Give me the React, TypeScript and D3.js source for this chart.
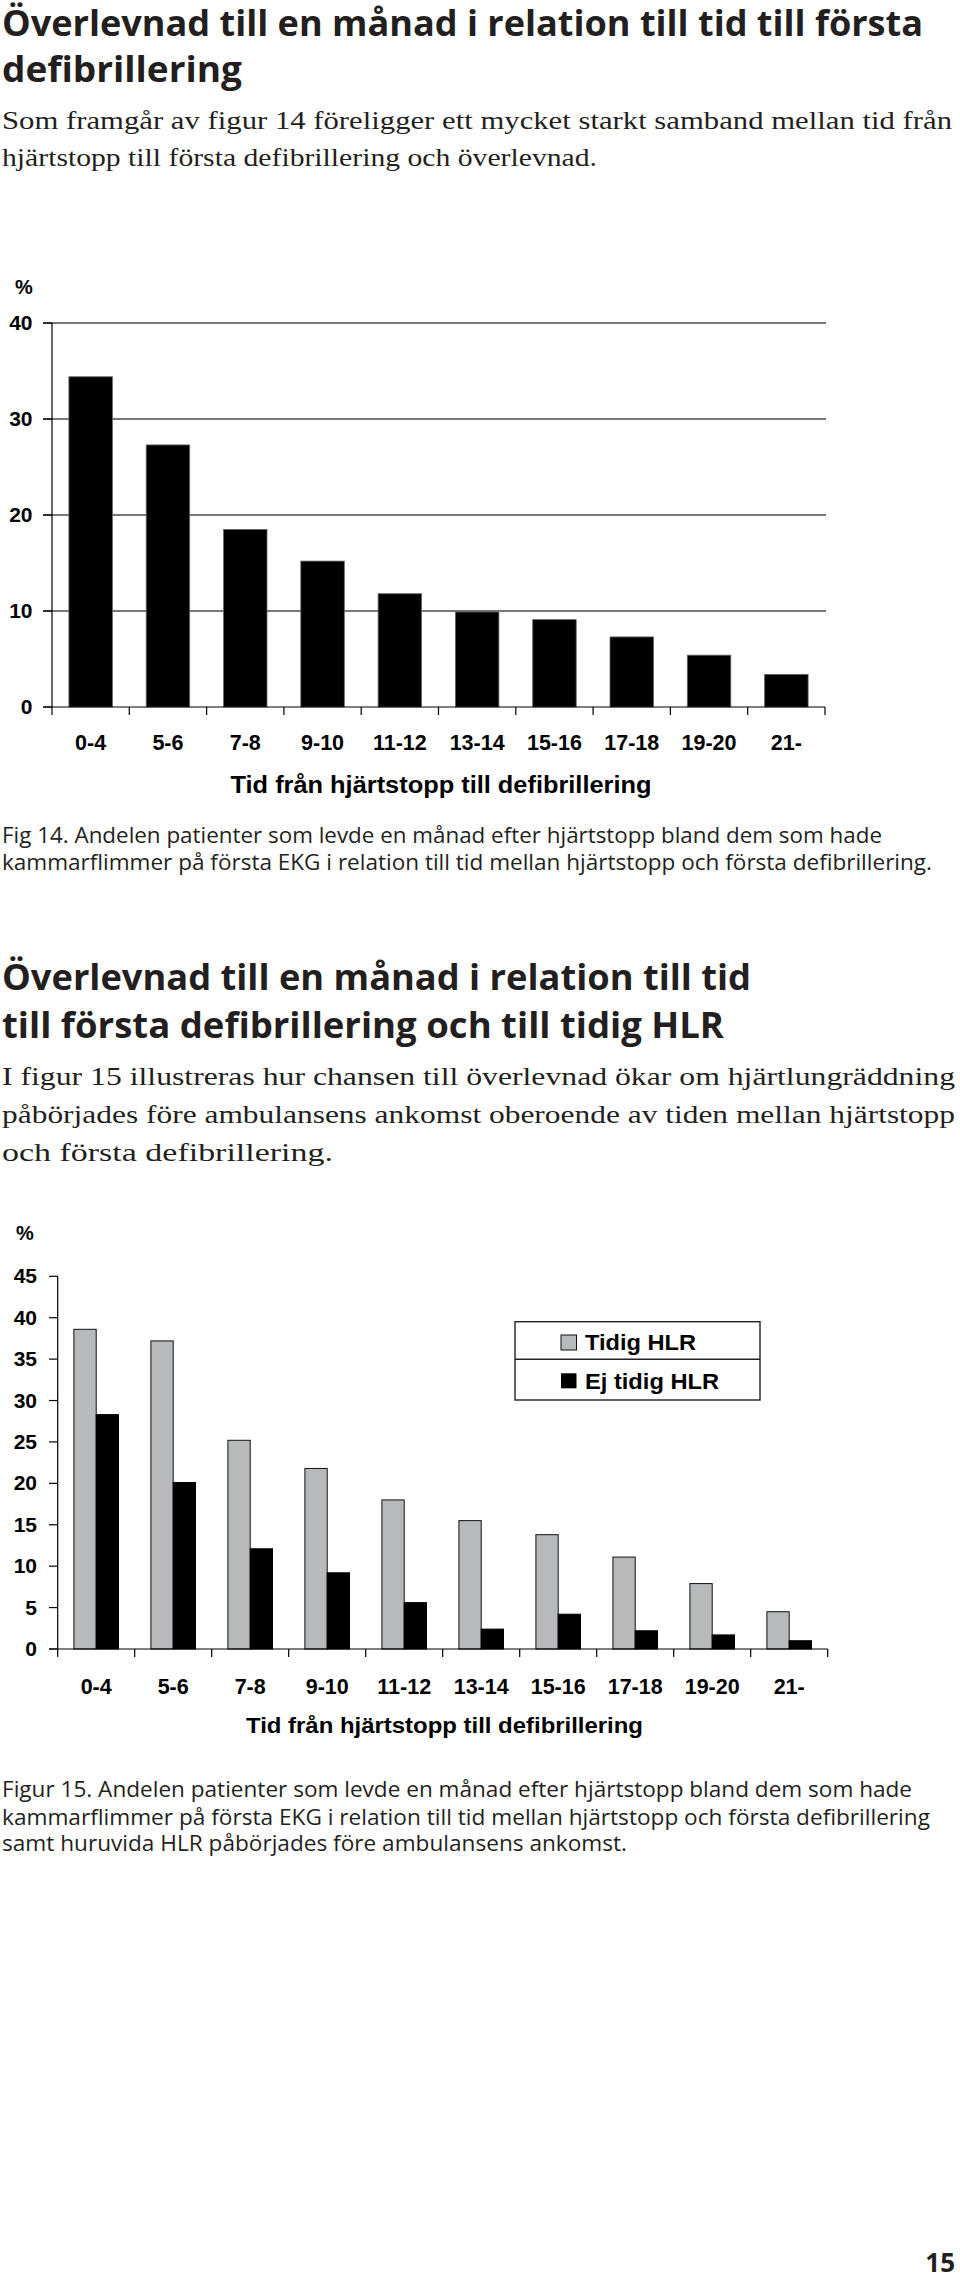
import React from "react";
import * as d3 from "d3";

const categories = ["0-4", "5-6", "7-8", "9-10", "11-12", "13-14", "15-16", "17-18", "19-20", "21-"];
const survivalAll = [34.4, 27.3, 18.5, 15.2, 11.8, 9.9, 9.1, 7.3, 5.4, 3.4];
const earlyCPR = [38.6, 37.2, 25.2, 21.8, 18.0, 15.5, 13.8, 11.1, 7.9, 4.5];
const noEarlyCPR = [28.3, 20.1, 12.1, 9.2, 5.6, 2.4, 4.2, 2.2, 1.7, 1.0];
const yTicks1 = [0, 10, 20, 30, 40];
const yTicks2 = [0, 5, 10, 15, 20, 25, 30, 35, 40, 45];
const seriesNames = ["Tidig HLR", "Ej tidig HLR"];
const xTitle = "Tid från hjärtstopp till defibrillering";

const TXT = "#231f20";
const SANS_B = "'Open Sans', 'Noto Sans', sans-serif";
const SERIF = "'Liberation Serif', 'DejaVu Serif', serif";
const ARIAL = "'Liberation Sans', Arial, sans-serif";
const GRAY = "#b8b9bb";

type Line = { t: string; y: number; w: number };

function TextLines({ lines, size, family, weight, x = 2 }: { lines: Line[]; size: number; family: string; weight: number | string; x?: number }) {
  return (
    <g>
      {lines.map((l, i) => (
        <text key={i} x={x} y={l.y} fontSize={size} fontFamily={family} fontWeight={weight} fill={TXT}
          textLength={l.w} lengthAdjust="spacingAndGlyphs">{l.t}</text>
      ))}
    </g>
  );
}

function Chart1() {
  const x = d3.scaleBand<string>().domain(categories).range([52, 825]).padding(0);
  const y = d3.scaleLinear().domain([0, 40]).range([707, 323]);
  const barW = 43.5;
  const edges = [...categories.map((c) => x(c) as number), 825];
  return (
    <g>
      <text x={15} y={294} fontFamily={ARIAL} fontWeight="bold" fontSize={20} fill="#000">%</text>
      {yTicks1.map((t) => (
        <g key={t}>
          {t > 0 && <line x1={43} x2={826} y1={y(t)} y2={y(t)} stroke="#4a4a4a" strokeWidth={1.4} />}
          <line x1={43} x2={52} y1={y(t)} y2={y(t)} stroke="#000" strokeWidth={1.2} />
          <text x={32.5} y={y(t) + 7} textAnchor="end" fontFamily={ARIAL} fontWeight="bold" fontSize={21} fill="#000">{t}</text>
        </g>
      ))}
      {categories.map((c, i) => (
        <rect key={c} x={(x(c) as number) + (x.bandwidth() - barW) / 2} y={y(survivalAll[i])}
          width={barW} height={y(0) - y(survivalAll[i])} fill="#000" stroke="#666" strokeWidth={0.8} />
      ))}
      <line x1={52} x2={52} y1={y(40)} y2={y(0)} stroke="#000" strokeWidth={1.2} />
      <line x1={43} x2={825} y1={y(0)} y2={y(0)} stroke="#000" strokeWidth={1.2} />
      {edges.map((e, i) => (
        <line key={i} x1={e} x2={e} y1={y(0)} y2={y(0) + 8} stroke="#000" strokeWidth={1.2} />
      ))}
      {categories.map((c) => (
        <text key={c} x={(x(c) as number) + x.bandwidth() / 2} y={750} textAnchor="middle"
          fontFamily={ARIAL} fontWeight="bold" fontSize={21.5} fill="#000">{c}</text>
      ))}
      <text x={441} y={793} textAnchor="middle" fontFamily={ARIAL} fontWeight="bold" fontSize={23}
        fill="#000" textLength={421} lengthAdjust="spacingAndGlyphs">{xTitle}</text>
    </g>
  );
}

function Chart2() {
  const x = d3.scaleBand<string>().domain(categories).range([57.7, 827.7]).padding(0);
  const y = d3.scaleLinear().domain([0, 45]).range([1649, 1276.3]);
  const barW = 22.3;
  const edges = [...categories.map((c) => x(c) as number), 827.7];
  return (
    <g>
      <text x={16} y={1240} fontFamily={ARIAL} fontWeight="bold" fontSize={20} fill="#000">%</text>
      {yTicks2.map((t) => (
        <g key={t}>
          <line x1={49} x2={57.7} y1={y(t)} y2={y(t)} stroke="#000" strokeWidth={1.2} />
          <text x={37} y={y(t) + 7} textAnchor="end" fontFamily={ARIAL} fontWeight="bold" fontSize={21} fill="#000">{t}</text>
        </g>
      ))}
      {categories.map((c, i) => {
        const cx = (x(c) as number) + x.bandwidth() / 2;
        return (
          <g key={c}>
            <rect x={cx - barW} y={y(earlyCPR[i])} width={barW} height={y(0) - y(earlyCPR[i])}
              fill={GRAY} stroke="#111" strokeWidth={1} />
            <rect x={cx} y={y(noEarlyCPR[i])} width={barW} height={y(0) - y(noEarlyCPR[i])}
              fill="#000" stroke="#000" strokeWidth={1} />
          </g>
        );
      })}
      <line x1={57.7} x2={57.7} y1={y(45)} y2={y(0)} stroke="#000" strokeWidth={1.2} />
      <line x1={49} x2={827.7} y1={y(0)} y2={y(0)} stroke="#000" strokeWidth={1.2} />
      {edges.map((e, i) => (
        <line key={i} x1={e} x2={e} y1={y(0)} y2={y(0) + 8} stroke="#000" strokeWidth={1.2} />
      ))}
      {categories.map((c) => (
        <text key={c} x={(x(c) as number) + x.bandwidth() / 2} y={1694} textAnchor="middle"
          fontFamily={ARIAL} fontWeight="bold" fontSize={21.5} fill="#000">{c}</text>
      ))}
      <text x={444.5} y={1733} textAnchor="middle" fontFamily={ARIAL} fontWeight="bold" fontSize={22}
        fill="#000" textLength={397} lengthAdjust="spacingAndGlyphs">{xTitle}</text>
      <rect x={515} y={1321.7} width={245} height={78.3} fill="#fff" stroke="#222" strokeWidth={1.4} />
      <line x1={515} x2={760} y1={1359.3} y2={1359.3} stroke="#222" strokeWidth={1.4} />
      <rect x={561} y={1335} width={15.5} height={15} fill={GRAY} stroke="#111" strokeWidth={1} />
      <rect x={561} y={1373.3} width={15.5} height={15} fill="#000" />
      <text x={585} y={1350} fontFamily={ARIAL} fontWeight="bold" fontSize={22} fill="#000"
        textLength={111} lengthAdjust="spacingAndGlyphs">{seriesNames[0]}</text>
      <text x={585} y={1388.5} fontFamily={ARIAL} fontWeight="bold" fontSize={22} fill="#000"
        textLength={134} lengthAdjust="spacingAndGlyphs">{seriesNames[1]}</text>
    </g>
  );
}

export default function App() {
  return (
    <svg width={960} height={2281} viewBox="0 0 960 2281"
      style={{ position: "absolute", left: 0, top: 0, display: "block", background: "#fff" }}>
      <rect x={0} y={0} width={960} height={2281} fill="#fff" />
      <TextLines size={35} family={SANS_B} weight={700} lines={[
        { t: "Överlevnad till en månad i relation till tid till första", y: 36, w: 921 },
        { t: "defibrillering", y: 82, w: 240 },
      ]} />
      <TextLines size={26} family={SERIF} weight={400} lines={[
        { t: "Som framgår av figur 14 föreligger ett mycket starkt samband mellan tid från", y: 129, w: 950 },
        { t: "hjärtstopp till första defibrillering och överlevnad.", y: 166, w: 595 },
      ]} />
      <Chart1 />
      <TextLines size={22} family={SANS_B} weight={400} lines={[
        { t: "Fig 14. Andelen patienter som levde en månad efter hjärtstopp bland dem som hade", y: 843, w: 880 },
        { t: "kammarflimmer på första EKG i relation till tid mellan hjärtstopp och första defibrillering.", y: 870, w: 930 },
      ]} />
      <TextLines size={35} family={SANS_B} weight={700} lines={[
        { t: "Överlevnad till en månad i relation till tid", y: 990, w: 749 },
        { t: "till första defibrillering och till tidig HLR", y: 1038, w: 722 },
      ]} />
      <TextLines size={26} family={SERIF} weight={400} lines={[
        { t: "I figur 15 illustreras hur chansen till överlevnad ökar om hjärtlungräddning", y: 1085, w: 953 },
        { t: "påbörjades före ambulansens ankomst oberoende av tiden mellan hjärtstopp", y: 1123, w: 953 },
        { t: "och första defibrillering.", y: 1161, w: 331 },
      ]} />
      <Chart2 />
      <TextLines size={22} family={SANS_B} weight={400} lines={[
        { t: "Figur 15. Andelen patienter som levde en månad efter hjärtstopp bland dem som hade", y: 1797, w: 910 },
        { t: "kammarflimmer på första EKG i relation till tid mellan hjärtstopp och första defibrillering", y: 1825, w: 928 },
        { t: "samt huruvida HLR påbörjades före ambulansens ankomst.", y: 1851, w: 625 },
      ]} />
      <text x={955} y={2272} textAnchor="end" fontFamily={SANS_B} fontWeight={700} fontSize={26} fill={TXT}>15</text>
    </svg>
  );
}
